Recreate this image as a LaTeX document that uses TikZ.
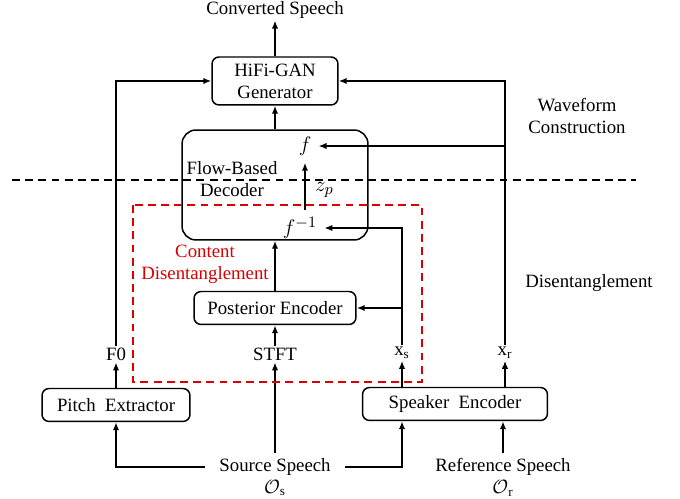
\documentclass[tikz,border=0pt]{standalone}
\usepackage{fontspec}
\setmainfont{Liberation Serif}
\usetikzlibrary{arrows.meta}
\usetikzlibrary{positioning}

\begin{document}
\begin{tikzpicture}[x=0.02cm,y=-0.02cm,
  font=\fontsize{10.7}{12.6}\selectfont,
  box/.style={draw,line width=0.85pt,rounded corners=4pt,align=center,inner sep=0pt},
  txt/.style={inner sep=1pt,align=center},
  mth/.style={inner sep=4pt,font=\fontsize{12.5}{14}\selectfont},
  arr/.style={line width=0.85pt,-{Latex[length=4.5pt,width=3.6pt]}},
  sep/.style={line width=0.85pt,dash pattern=on 4.5pt off 3pt}]
\useasboundingbox (0,0) rectangle (680,499);

% blocks
\node[box,minimum width=2.52cm,minimum height=0.96cm] (hifi) at (275,81) {HiFi-GAN\\Generator};
\node[box,rounded corners=8pt,minimum width=3.72cm,minimum height=2.2cm] (dec) at (275,185) {};
\node[box,minimum width=3.24cm,minimum height=0.66cm] (pe) at (275,308) {Posterior Encoder};
\node[box,minimum width=2.96cm,minimum height=0.66cm] (pitch) at (116,405) {Pitch\ \ Extractor};
\node[box,minimum width=3.7cm,minimum height=0.66cm] (se) at (455,404) {Speaker\ \ Encoder};

% labels
\node[txt] (conv) at (275,10) {Converted Speech};
\node[txt] (flow) at (232,179) {Flow-Based\\Decoder};
\node[mth] (f) at (305,146) {$f$};
\node[mth] (finv) at (300,228) {$f^{-1}$};
\node[mth,anchor=west,inner sep=1pt] (zp) at (313,190) {$z_p$};
\node[txt,text=red!85!black] (cont) at (205,264) {Content\\Disentanglement};
\node[txt] (F0) at (116,354) {F0};
\node[txt] (stft) at (275,354) {STFT};
\node[txt] (xs) at (402,353) {x\textsubscript{s}};
\node[txt] (xr) at (505,353) {x\textsubscript{r}};
\node[txt,inner xsep=8pt,inner ysep=3pt] (src) at (275,467) {Source Speech};
\node[txt] (os) at (275,488) {$\mathcal{O}$\textsubscript{s}};
\node[txt,inner ysep=3pt] (ref) at (503,467) {Reference Speech};
\node[txt] (orr) at (503,488) {$\mathcal{O}$\textsubscript{r}};
\node[txt] (wave) at (577,116) {Waveform\\Construction};
\node[txt] (dis) at (589,283) {Disentanglement};

% connectors
\draw[arr] (hifi.north) -- (conv.south);
\draw[arr] (dec.north) -- (hifi.south);
\draw[arr] (pe.north) -- (dec.south);
\draw[arr] (stft.north) -- (pe.south);
\draw[arr] (src.north) -- (stft.south);
\draw[arr] (pitch.north) -- (F0.south);
\draw[arr] (F0.north) |- (hifi.west);
\draw[arr] (xr.north) |- (hifi.east);
\draw[arr] (xr.north |- f.east) -- (f.east);
\draw[arr] (xs.north) |- (finv.east);
\draw[arr] (xs.north |- pe.east) -- (pe.east);
\draw[arr] (finv.north -| f.south) -- (f.south);
\draw[arr] (src.west) -| (pitch.south);
\draw[arr] (src.east) -| (xs.south |- se.south);
\draw[arr] (xs.south |- se.north) -- (xs.south);
\draw[arr] (xr.south |- se.north) -- (xr.south);
\draw[arr] (ref.north) -- (ref.north |- se.south);

% stage split and content box
\draw[sep] (12,180) -- (636,180);
\draw[sep,red!85!black] (133,205) rectangle (422,382);

\end{tikzpicture}
\end{document}
